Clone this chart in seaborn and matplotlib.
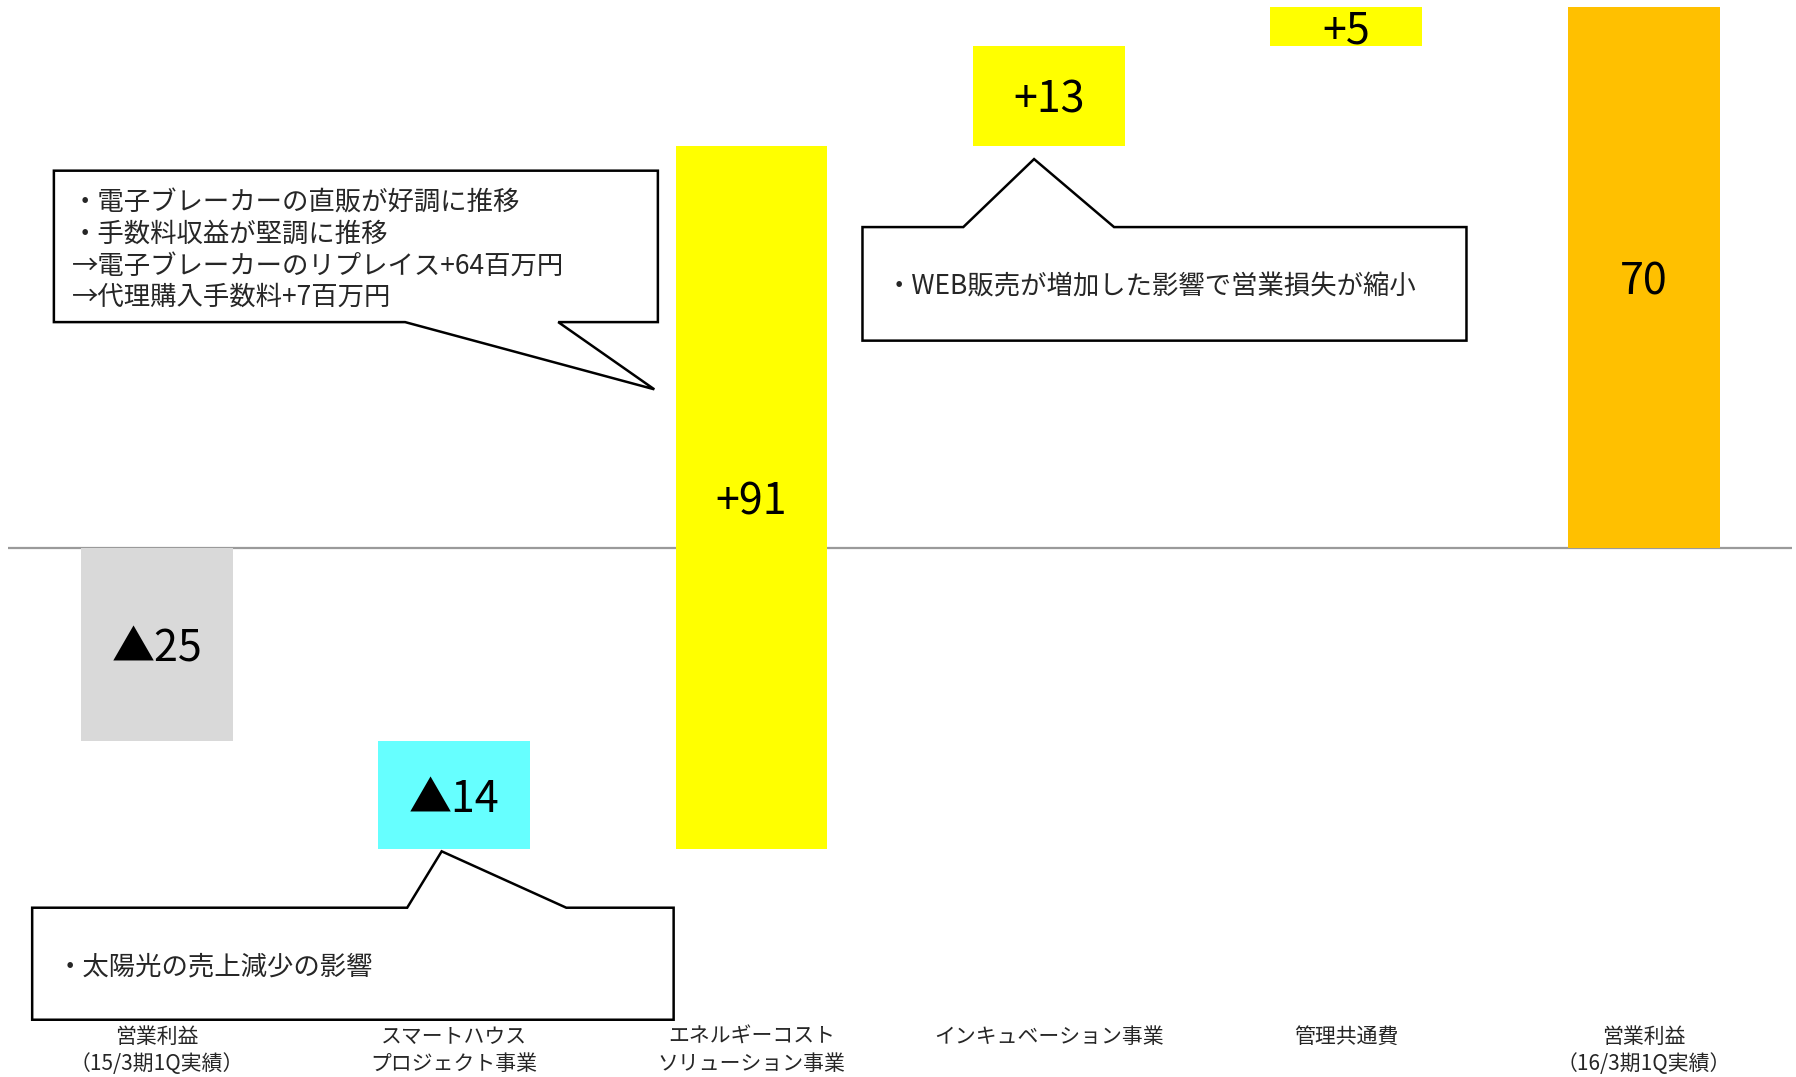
import matplotlib

matplotlib.use("Agg")
import matplotlib.pyplot as plt
import pandas as pd
import seaborn as sns
from matplotlib.patches import Polygon

# data (百万円)
categories = [
    "営業利益\n（15/3期1Q実績）",
    "スマートハウス\nプロジェクト事業",
    "エネルギーコスト\nソリューション事業",
    "インキュベーション事業",
    "管理共通費",
    "営業利益\n（16/3期1Q実績）",
]
changes = [-25, -14, 91, 13, 5, 70]
is_total = [True, False, False, False, False, True]
bar_labels = ["▲25", "▲14", "+91", "+13", "+5", "70"]
bar_colors = ["#D9D9D9", "#66FFFF", "#FFFF00", "#FFFF00", "#FFFF00", "#FFC000"]

# waterfall bottoms
bottoms = []
running = 0
for val, tot in zip(changes, is_total):
    if tot:
        bottoms.append(0)
        running = val
    else:
        bottoms.append(running)
        running += val

df = pd.DataFrame({"category": categories, "change": changes, "bottom": bottoms})

sns.set_style("white")
plt.rcParams["font.family"] = ["Noto Sans CJK JP", "DejaVu Sans"]

fig = plt.figure(figsize=(17.96, 10.77), dpi=100)
ax = fig.add_axes([0.0045, 0.0503, 0.9935, 0.9433])

sns.barplot(
    data=df,
    x="category",
    y="change",
    order=categories,
    bottom=df["bottom"].values,
    width=0.51,
    errorbar=None,
    color=bar_colors[2],
    saturation=1,
    linewidth=0,
    ax=ax,
    zorder=2,
)
for patch, c in zip(ax.patches, bar_colors):
    patch.set_facecolor(c)
    patch.set_edgecolor("none")

for i, (b, h, lab) in enumerate(zip(bottoms, changes, bar_labels)):
    ax.text(i, b + h / 2, lab, ha="center", va="center_baseline",
            fontsize=31, color="black", zorder=4)

ax.axhline(0, color="#9a9a9a", lw=1.6, zorder=1)

ax.set_xlim(-0.5, 5.5)
ax.set_ylim(-61.5, 70)
ax.set_xlabel("")
ax.set_ylabel("")
ax.set_yticks([])
ax.tick_params(axis="x", length=0, pad=2, labelsize=15)
for lab in ax.get_xticklabels():
    lab.set_linespacing(1.3)
sns.despine(ax=ax, left=True, bottom=True)


def callout(ax, x0, x1, y0, y1, tail, side):
    """Rectangular speech box with a pointed tail on the top or bottom edge."""
    b0, b1, tx, ty = tail
    if side == "top":
        pts = [(x0, y0), (x0, y1), (b0, y1), (tx, ty), (b1, y1), (x1, y1), (x1, y0)]
    else:
        pts = [(x0, y1), (x1, y1), (x1, y0), (b1, y0), (tx, ty), (b0, y0), (x0, y0)]
    ax.add_patch(
        Polygon(pts, closed=True, facecolor="white", edgecolor="black",
                lw=1.8, joinstyle="miter", clip_on=False, zorder=3)
    )


callout(ax, -0.346, 1.685, 29.2, 48.8, (0.835, 1.35, 1.673, 20.5), "bottom")
ax.text(
    -0.285, 38.5,
    "・電子ブレーカーの直販が好調に推移\n・手数料収益が堅調に推移\n"
    "→電子ブレーカーのリプレイス+64百万円\n→代理購入手数料+7百万円",
    ha="left", va="center", fontsize=19, linespacing=1.2, zorder=4,
)

callout(ax, 2.373, 4.404, 26.8, 41.5, (2.712, 3.219, 2.95, 50.3), "top")
ax.text(2.45, 33.8, "・WEB販売が増加した影響で営業損失が縮小",
        ha="left", va="center", fontsize=19, zorder=4)

callout(ax, -0.419, 1.738, -61.1, -46.6, (0.842, 1.377, 0.958, -39.3), "top")
ax.text(-0.338, -54.3, "・太陽光の売上減少の影響",
        ha="left", va="center", fontsize=19, zorder=4)

fig.savefig("out.png", dpi=100)
plt.close("all")
